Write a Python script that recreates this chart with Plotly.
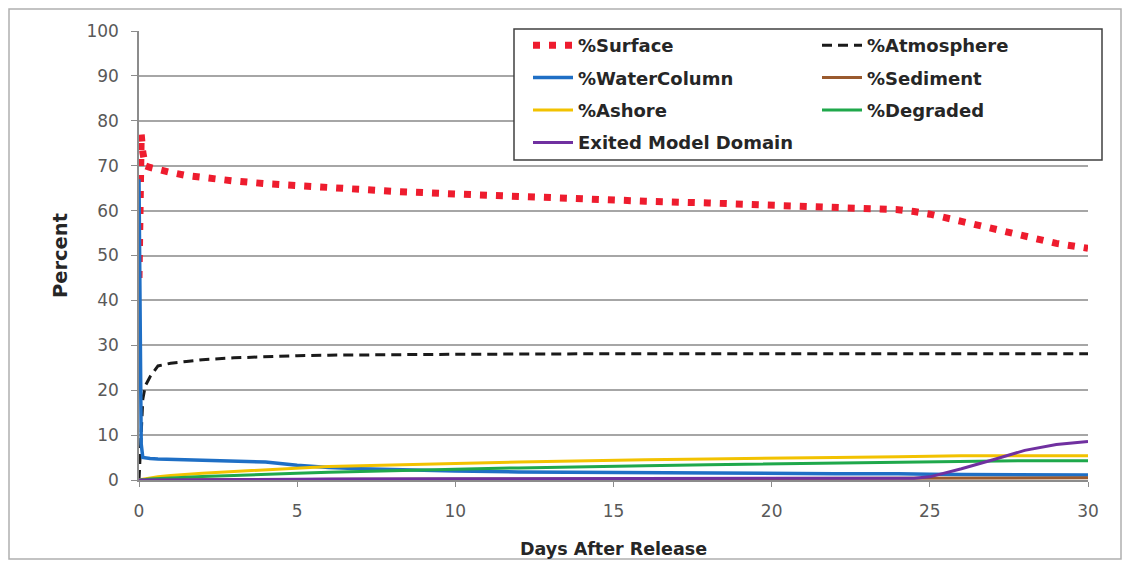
import plotly.graph_objects as go

# ---- data ----
days = [0, 0.03, 0.07, 0.12, 0.2, 0.35, 0.6, 1, 1.5, 2, 3, 4, 5, 6, 7, 8, 10, 12, 14, 16, 18, 20, 22, 24, 24.5, 25, 26, 27, 28, 29, 30]

surface = [45, 60, 77, 73, 70, 69.6, 69.3, 68.5, 67.8, 67.3, 66.6, 66.0, 65.5, 65.0, 64.7, 64.3, 63.7, 63.1, 62.5, 62.1, 61.7, 61.3, 60.8, 60.2, 59.8, 59.2, 57.6, 56.0, 54.2, 52.7, 51.6]
atmosphere = [0, 5, 12, 18, 21, 23, 25.4, 26.0, 26.4, 26.8, 27.2, 27.5, 27.7, 27.8, 27.9, 27.9, 28.0, 28.1, 28.1, 28.1, 28.1, 28.1, 28.1, 28.1, 28.1, 28.1, 28.1, 28.1, 28.1, 28.1, 28.1]
water_column = [67, 40, 8, 5.0, 4.9, 4.8, 4.7, 4.6, 4.5, 4.4, 4.2, 4.0, 3.3, 2.8, 2.5, 2.3, 2.0, 1.8, 1.7, 1.6, 1.5, 1.5, 1.4, 1.4, 1.4, 1.3, 1.2, 1.2, 1.1, 1.1, 1.1]
sediment = [0, 0, 0, 0, 0, 0, 0.02, 0.03, 0.05, 0.06, 0.08, 0.1, 0.12, 0.14, 0.16, 0.18, 0.2, 0.24, 0.27, 0.3, 0.33, 0.36, 0.39, 0.42, 0.43, 0.44, 0.46, 0.48, 0.5, 0.5, 0.5]
ashore = [0, 0, 0.1, 0.2, 0.3, 0.5, 0.7, 1.0, 1.3, 1.5, 1.9, 2.3, 2.6, 3.0, 3.2, 3.4, 3.7, 4.0, 4.3, 4.5, 4.7, 4.8, 5.0, 5.2, 5.3, 5.3, 5.4, 5.4, 5.4, 5.4, 5.4]
degraded = [0, 0, 0, 0.05, 0.1, 0.2, 0.3, 0.5, 0.7, 0.8, 1.0, 1.3, 1.5, 1.7, 1.9, 2.1, 2.4, 2.7, 3.0, 3.2, 3.4, 3.6, 3.8, 3.9, 4.0, 4.1, 4.2, 4.2, 4.3, 4.3, 4.3]
exited = [0, 0, 0, 0, 0, 0, 0, 0, 0, 0, 0.05, 0.1, 0.15, 0.2, 0.25, 0.3, 0.3, 0.3, 0.3, 0.3, 0.3, 0.3, 0.3, 0.3, 0.4, 0.7, 2.5, 4.5, 6.6, 7.9, 8.6]

x_ticks = [0, 5, 10, 15, 20, 25, 30]
y_ticks = [0, 10, 20, 30, 40, 50, 60, 70, 80, 90, 100]

FONT = "'DejaVu Sans', sans-serif"

# figure geometry (page body adds an 8px offset)
W, H = 1114, 552
ML, MR, MT, MB = 131, 34, 23, 80
PW, PH = W - ML - MR, H - MT - MB


def px_x(fx):
    return (fx - ML) / PW


def px_y(fy):
    return (H - MB - fy) / PH


fig = go.Figure()


def add(name, y, color, width, dash, legend, rank):
    fig.add_trace(go.Scatter(
        x=days, y=y, mode="lines", name=name,
        line=dict(color=color, width=width, dash=dash),
        legend=legend, legendgroup=name, legendrank=rank,
    ))


# series order as in the original (later series drawn on top)
add("%Surface", surface, "#ee1c2e", 7, "7px,9px", "legend", 1)
add("%Atmosphere", atmosphere, "#1a1a1a", 3, "10px,6px", "legend2", 1)
add("%WaterColumn", water_column, "#1f6fc5", 3.5, "solid", "legend", 2)
add("%Sediment", sediment, "#9a5a2e", 3, "solid", "legend2", 2)
add("%Ashore", ashore, "#f2c200", 3, "solid", "legend", 3)
add("%Degraded", degraded, "#1fa84b", 3, "solid", "legend2", 3)
add("Exited Model Domain", exited, "#7030a0", 3, "solid", "legend", 4)

legend_common = dict(
    bgcolor="rgba(0,0,0,0)", borderwidth=0,
    font=dict(family=FONT, size=18, color="#262626", weight="bold"),
    tracegroupgap=6, yanchor="top", xanchor="left",
    itemwidth=40,
)

fig.update_layout(
    width=W, height=H,
    margin=dict(l=ML, r=MR, t=MT, b=MB, autoexpand=False),
    paper_bgcolor="white", plot_bgcolor="white",
    font=dict(family=FONT, size=17, color="#595959"),
    legend=dict(x=px_x(520), y=px_y(19), **legend_common),
    legend2=dict(x=px_x(809), y=px_y(19), **legend_common),
    xaxis=dict(
        range=[0, 30], tickvals=x_ticks, ticktext=[str(v) for v in x_ticks],
        automargin=False,
        showgrid=False, zeroline=False, showline=True, linecolor="#8c8c8c", linewidth=1.5,
        ticks="outside", ticklen=5, tickcolor="#8c8c8c", ticklabelstandoff=10,
        tickfont=dict(family=FONT, size=17, color="#595959"),
        title=dict(text="<b>Days After Release</b>", font=dict(family=FONT, size=17.5, color="#262626"), standoff=23),
    ),
    yaxis=dict(
        range=[0, 100], tickvals=y_ticks, ticktext=[str(v) for v in y_ticks],
        automargin=False,
        showgrid=True, gridcolor="#a6a6a6", gridwidth=1.5,
        zeroline=False, showline=True, linecolor="#8c8c8c", linewidth=1.5,
        ticks="outside", ticklen=6, tickcolor="#8c8c8c", ticklabelstandoff=9,
        tickfont=dict(family=FONT, size=17, color="#595959"),
        title=dict(text="<b>Percent</b>", font=dict(family=FONT, size=19.5, color="#262626"), standoff=14),
    ),
    shapes=[
        # outer frame of the chart
        dict(type="rect", xref="paper", yref="paper",
             x0=px_x(1), x1=px_x(W - 1), y0=px_y(H - 1), y1=px_y(1),
             line=dict(color="#b0b0b0", width=1.5), fillcolor="rgba(0,0,0,0)", layer="below"),
        # legend box
        dict(type="rect", xref="paper", yref="paper",
             x0=px_x(506), x1=px_x(1094), y0=px_y(152), y1=px_y(21),
             line=dict(color="#404040", width=1.5), fillcolor="white", layer="above"),
    ],
)

fig.write_html("out.html")
